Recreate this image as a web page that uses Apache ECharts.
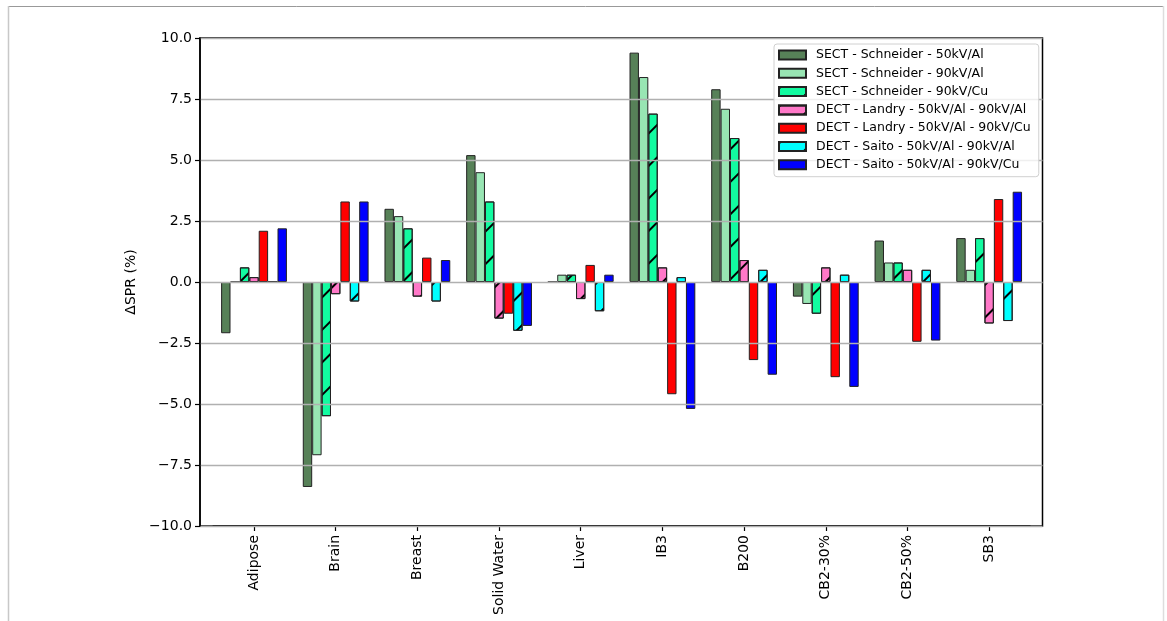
<!DOCTYPE html>
<html>
<head>
<meta charset="utf-8">
<script src="https://cdn.jsdelivr.net/npm/echarts@6/dist/echarts.min.js"></script>
<style>
html,body{margin:0;padding:0;background:#fff;}
#chart{width:1167px;height:621px;}
</style>
</head>
<body>
<div id="chart"></div>
<script>
const categories = ['Adipose','Brain','Breast','Solid Water','Liver','IB3','B200','CB2-30%','CB2-50%','SB3'];
const seriesNames = [
  'SECT - Schneider - 50kV/Al',
  'SECT - Schneider - 90kV/Al',
  'SECT - Schneider - 90kV/Cu',
  'DECT - Landry - 50kV/Al - 90kV/Al',
  'DECT - Landry - 50kV/Al - 90kV/Cu',
  'DECT - Saito - 50kV/Al - 90kV/Al',
  'DECT - Saito - 50kV/Al - 90kV/Cu'
];
const sect50Al  = [-2.1, -8.4, 3.0, 5.2, 0.0, 9.4, 7.9, -0.6, 1.7, 1.8];
const sect90Al  = [0.0, -7.1, 2.7, 4.5, 0.3, 8.4, 7.1, -0.9, 0.8, 0.5];
const sect90Cu  = [0.6, -5.5, 2.2, 3.3, 0.3, 6.9, 5.9, -1.3, 0.8, 1.8];
const landryAl  = [0.2, -0.5, -0.6, -1.5, -0.7, 0.6, 0.9, 0.6, 0.5, -1.7];
const landryCu  = [2.1, 3.3, 1.0, -1.3, 0.7, -4.6, -3.2, -3.9, -2.45, 3.4];
const saitoAl   = [0.0, -0.8, -0.8, -2.0, -1.2, 0.2, 0.5, 0.3, 0.5, -1.6];
const saitoCu   = [2.2, 3.3, 0.9, -1.8, 0.3, -5.2, -3.8, -4.3, -2.4, 3.7];
const yTicks = [-10, -7.5, -5, -2.5, 0, 2.5, 5, 7.5, 10];

const allValues = [sect50Al, sect90Al, sect90Cu, landryAl, landryCu, saitoAl, saitoCu];
const colors = ['#578158', '#98e5b3', '#12fba0', '#ff78c8', '#ff0000', '#00ffff', '#0000ff'];
const hatched = [false, false, true, true, false, true, false];

const FONT = 'DejaVu Sans';
const hatch = {
  symbol: 'rect',
  symbolSize: 1,
  color: '#000',
  backgroundColor: null,
  dashArrayX: [1, 0],
  dashArrayY: [2, 20.4],
  rotation: -Math.PI / 4
};

const chart = echarts.init(document.getElementById('chart'), null, {renderer: 'canvas'});

const series = allValues.map((vals, i) => ({
  name: seriesNames[i],
  type: 'bar',
  xAxisIndex: 0,
  yAxisIndex: 0,
  data: vals,
  barWidth: 9.4,
  barGap: '0%',
  z: 2,
  itemStyle: Object.assign({
    color: colors[i],
    borderColor: '#222',
    borderWidth: 1
  }, hatched[i] ? {decal: hatch} : {})
}));

function fmt(v) {
  return (v < 0 ? '\u2212' : '') + Math.abs(v).toFixed(1);
}

chart.setOption({
  animation: false,
  backgroundColor: '#fff',
  textStyle: {fontFamily: FONT},
  graphic: [
    {type: 'line', shape: {x1: 8, y1: 6.5, x2: 1163, y2: 6.5}, style: {stroke: '#999', lineWidth: 1}, silent: true},
    {type: 'line', shape: {x1: 8.5, y1: 6, x2: 8.5, y2: 621}, style: {stroke: '#c8c8c8', lineWidth: 1.5}, silent: true},
    {type: 'line', shape: {x1: 1163.5, y1: 6, x2: 1163.5, y2: 621}, style: {stroke: '#ddd', lineWidth: 1.5}, silent: true}
  ],
  grid: [
    {left: 213.17, right: 137, top: 38, bottom: 95, containLabel: false},
    {left: 200, right: 124.5, top: 38, bottom: 95, containLabel: false, show: true,
     borderColor: '#000', borderWidth: 1.5, backgroundColor: 'transparent'}
  ],
  legend: {
    orient: 'vertical',
    left: 774,
    top: 44,
    icon: 'rect',
    itemWidth: 27,
    itemHeight: 9,
    itemGap: 5.3,
    padding: [4.5, 8, 5.4, 4],
    backgroundColor: 'rgba(255,255,255,0.8)',
    borderColor: '#d0d0d0',
    borderWidth: 1,
    borderRadius: 3,
    textStyle: {fontFamily: FONT, fontSize: 12.5, color: '#000', lineHeight: 13, padding: [0, 0, 0, 5]},
    data: seriesNames,
    z: 10
  },
  xAxis: [
    {
      gridIndex: 0,
      type: 'category',
      data: categories,
      boundaryGap: true,
      position: 'bottom',
      axisLine: {show: true, onZero: false, lineStyle: {color: '#000', width: 1.5}},
      axisTick: {show: true, alignWithLabel: true, length: 5, lineStyle: {color: '#000', width: 1.2}},
      axisLabel: {interval: 0, rotate: 90, margin: 9, fontFamily: FONT, fontSize: 14, color: '#000'},
      splitLine: {show: false}
    },
    {gridIndex: 1, type: 'value', min: 0, max: 1, show: false}
  ],
  yAxis: [
    {gridIndex: 0, type: 'value', min: -10, max: 10, interval: 2.5, show: false, splitLine: {show: false}},
    {
      gridIndex: 1,
      type: 'value',
      min: yTicks[0],
      max: yTicks[yTicks.length - 1],
      interval: 2.5,
      z: 3,
      name: '\u0394SPR (%)',
      nameLocation: 'middle',
      nameGap: 53,
      nameTextStyle: {fontFamily: FONT, fontSize: 14, color: '#000'},
      axisLine: {show: true, lineStyle: {color: '#000', width: 1.5}},
      axisTick: {show: true, length: 5, lineStyle: {color: '#000', width: 1.2}},
      axisLabel: {margin: 8, formatter: fmt, fontFamily: FONT, fontSize: 14, color: '#000'},
      splitLine: {show: true, lineStyle: {color: '#b0b0b0', width: 1.4}}
    }
  ],
  series: series
});
</script>
</body>
</html>
